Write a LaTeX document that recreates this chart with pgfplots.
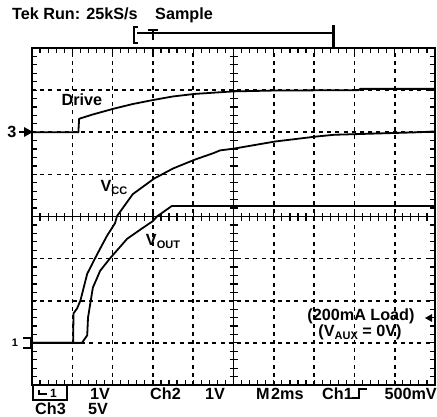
\documentclass[border=0pt]{standalone}
\usepackage{fontspec}
\setmainfont{Liberation Sans}
\usepackage{pgfplots}
\pgfplotsset{compat=1.18}
\begin{document}
\begin{tikzpicture}[x=1pt,y=1pt,font=\fontsize{16.2}{17}\selectfont\bfseries,
  every node/.style={inner sep=0pt}]
\useasboundingbox (0,0) rectangle (437,416);
\begin{axis}[
  at={(32pt,31pt)}, anchor=south west,
  scale only axis, width=403pt, height=337pt,
  xmin=0, xmax=10, ymin=0, ymax=8,
  xtick={0,...,10}, ytick={0,...,8},
  xticklabels={}, yticklabels={},
  major tick length=0pt,
  grid=major,
  major grid style={black, line width=1.6pt, dash pattern=on 4pt off 4.2pt},
  axis line style={line width=1.9pt},
]
% Drive
\addplot[black, line width=1.8pt] coordinates {
  (0,6) (1.15,6) (1.17,6.32) (1.5,6.42) (2.03,6.56) (2.5,6.67) (3.03,6.77)
  (3.5,6.85) (4.04,6.91) (5,6.97) (6,6.99) (8.1,7.0) (8.15,7.03) (10,7.03)};
% VCC
\addplot[black, line width=1.8pt] coordinates {
  (0,1) (1.02,1) (1.03,1.7) (1.12,1.82) (1.2,2.0) (1.37,2.64) (1.62,3.11)
  (1.86,3.54) (2.06,3.84) (2.11,4.01) (2.5,4.53) (3.03,4.9) (3.5,5.14)
  (4.04,5.35) (4.49,5.5) (4.67,5.57) (5,5.61) (6.03,5.78) (7.07,5.9)
  (7.5,5.94) (9.6,6.0) (10,6.02)};
% VOUT
\addplot[black, line width=1.8pt] coordinates {
  (0,1) (1.24,1) (1.37,1.18) (1.39,1.6) (1.51,2.31) (1.69,2.71) (1.93,3.0)
  (2.36,3.47) (2.75,3.73) (3.0,3.89) (3.1,4.0) (3.47,4.25) (10,4.25)};
\end{axis}
% frame ticks, fifth of a division, pointing inwards
\foreach \k in {0,...,50} {
  \draw[line width=1.2pt] (32+\k*8.06,31) -- (32+\k*8.06,36);
  \draw[line width=1.2pt] (32+\k*8.06,368) -- (32+\k*8.06,363);
}
\foreach \k in {0,...,40} {
  \draw[line width=1.2pt] (32,31+\k*8.425) -- (37,31+\k*8.425);
  \draw[line width=1.2pt] (435,31+\k*8.425) -- (430,31+\k*8.425);
}
% centre cross with its ticks
\draw[line width=1.7pt] (233.5,31) -- (233.5,368);
\draw[line width=1.7pt] (32,199.5) -- (435,199.5);
\foreach \k in {0,...,40}
  \draw[line width=1.2pt] (229.5,31+\k*8.425) -- (237.5,31+\k*8.425);
\foreach \k in {0,...,50}
  \draw[line width=1.2pt] (32+\k*8.06,195.5) -- (32+\k*8.06,203.5);
% trace labels
\node at (82,316) {Drive};
\node at (114,229) {V\raisebox{-3pt}{\fontsize{11}{11}\selectfont CC}};
\node at (163,175) {V\raisebox{-3pt}{\fontsize{11}{11}\selectfont OUT}};
\node at (361,100) {(200mA Load)};
\node at (360,84) {(V\raisebox{-3pt}{\fontsize{11}{11}\selectfont AUX} = 0V)};
\fill (425,98) -- (432,102) -- (432,94) -- cycle;
% channel markers on the left
\node at (12,284) {3};
\draw[line width=1.5pt] (19,284) -- (25,284);
\fill (33,284) -- (24,289) -- (24,279) -- cycle;
\node at (15,73) {\fontsize{11}{11}\selectfont 1};
\draw[line width=2pt] (23,78) -- (31,78) -- (31,68) -- (23,68);
% header
\node[anchor=base west] at (12,396) {Tek Run: 25kS/s};
\node[anchor=base west] at (155,396) {Sample};
\draw[line width=2.5pt] (138,389) -- (134,389) -- (134,373) -- (138,373);
\draw[line width=1.5pt] (137,383) -- (333,383);
\draw[line width=2pt] (148,386) -- (158,386);
\draw[line width=2pt] (153,386) -- (153,376);
\draw[line width=3pt] (333,391) -- (333,369);
% footer
\draw[line width=1.6pt] (33,31) rectangle (67,16);
\draw[line width=1.6pt] (39,26) -- (39,22) -- (47,22);
\node[anchor=base west] at (50,19) {\fontsize{12}{12}\selectfont 1};
\node[anchor=base west] at (35,2) {Ch3};
\node[anchor=base west] at (90,17) {1V};
\node[anchor=base west] at (88,2) {5V};
\node[anchor=base west] at (150,17) {Ch2};
\node[anchor=base west] at (205,17) {1V};
\node[anchor=base west] at (256,17) {M};
\node[anchor=base west] at (271,17) {2ms};
\node[anchor=base west] at (322,17) {Ch1};
\draw[line width=1.5pt] (352,18) -- (359,18) -- (359,27) -- (367,27);
\node[anchor=base east] at (437,17) {500mV};
\end{tikzpicture}
\end{document}
